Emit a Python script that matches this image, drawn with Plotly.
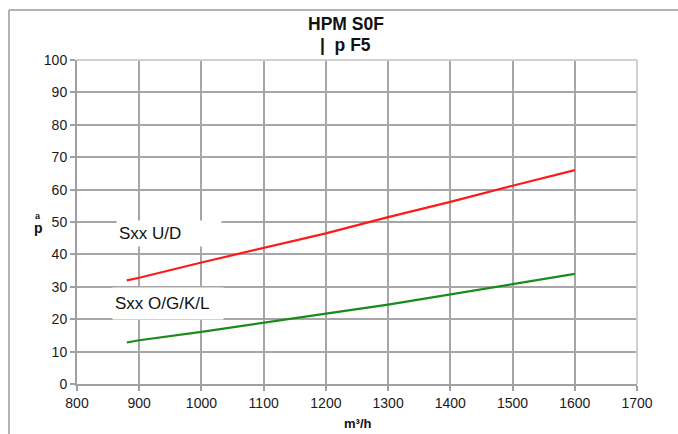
import plotly.graph_objects as go

# Data
flow_ud = [880, 900, 1000, 1100, 1200, 1300, 1400, 1500, 1600]
dp_ud = [32, 32.8, 37.5, 42, 46.5, 51.5, 56.2, 61.2, 66]
flow_ogkl = [880, 900, 1000, 1100, 1200, 1300, 1400, 1500, 1600]
dp_ogkl = [12.8, 13.5, 16.1, 19, 21.7, 24.5, 27.6, 30.7, 34]
x_ticks = [800, 900, 1000, 1100, 1200, 1300, 1400, 1500, 1600, 1700]
y_ticks = [0, 10, 20, 30, 40, 50, 60, 70, 80, 90, 100]

FONT = "Liberation Sans, Arial, sans-serif"

fig = go.Figure()
fig.add_trace(go.Scatter(x=flow_ud, y=dp_ud, mode="lines",
                         line=dict(color="#ff1a1a", width=2.2), showlegend=False))
fig.add_trace(go.Scatter(x=flow_ogkl, y=dp_ogkl, mode="lines",
                         line=dict(color="#1a8a1a", width=2.2), showlegend=False))

L, R, T, B = 77, 41, 60, 50
W, H = 678, 434
pw, ph = W - L - R, H - T - B

def px(x):
    return (x - L) / pw

def py(y):
    return (H - B - y) / ph

def note(text, x, y, size, **kw):
    d = dict(text=text, xref="paper", yref="paper", x=px(x), y=py(y),
             xanchor="center", yanchor="middle", showarrow=False,
             font=dict(size=size, color="#111"))
    d.update(kw)
    return d

fig.update_layout(
    width=W, height=H,
    margin=dict(l=L, r=R, t=T, b=B),
    paper_bgcolor="white", plot_bgcolor="white",
    font=dict(family=FONT, size=13, color="#222"),
    xaxis=dict(range=[800, 1700], tickvals=x_ticks, showgrid=True,
               gridcolor="#a6a6a6", gridwidth=1.5, showline=True,
               linecolor="#a0a0a0", linewidth=2, ticks="outside",
               ticklen=5, tickcolor="#a0a0a0", tickwidth=1.5,
               zeroline=False, tickfont=dict(size=14, color="#1a1a1a")),
    yaxis=dict(range=[0, 100], tickvals=y_ticks, showgrid=True,
               gridcolor="#a6a6a6", gridwidth=1.5, showline=True,
               linecolor="#a0a0a0", linewidth=2, ticks="outside",
               ticklen=5, tickcolor="#a0a0a0", tickwidth=1.5,
               zeroline=False, tickfont=dict(size=14, color="#1a1a1a")),
    shapes=[
        # outer frame (left + top)
        dict(type="line", xref="paper", yref="paper",
             x0=px(9), y0=py(H + 2), x1=px(9), y1=py(10),
             line=dict(color="#9a9a9a", width=1.5)),
        dict(type="line", xref="paper", yref="paper",
             x0=px(9), y0=py(10), x1=px(W + 2), y1=py(10),
             line=dict(color="#9a9a9a", width=1.5)),
        # light plot border top/right
        dict(type="line", xref="paper", yref="paper",
             x0=0, y0=1, x1=1, y1=1,
             line=dict(color="#cfcfcf", width=2)),
        dict(type="line", xref="paper", yref="paper",
             x0=1, y0=0, x1=1, y1=1,
             line=dict(color="#cfcfcf", width=2)),
    ],
    annotations=[
        note("<b>HPM S0F</b>", 346, 24, 17.5),
        note("<b>|  p F5</b>", 345, 45, 17.5),
        note("<b>m³/h</b>", 358, 423, 13),
        note("<b>p</b>", 38, 228, 14),
        note("<b>a</b>", 38, 216, 9),
        note("Sxx U/D", 168.5, 234, 17, bgcolor="white", align="left",
             borderpad=2, width=100, height=21),
        note("Sxx O/G/K/L", 168, 303, 17, bgcolor="white", align="left",
             borderpad=2, width=106, height=27),
    ],
)

fig.write_html("out.html", config={"displayModeBar": False},
               post_script="document.body.style.margin='0';")
